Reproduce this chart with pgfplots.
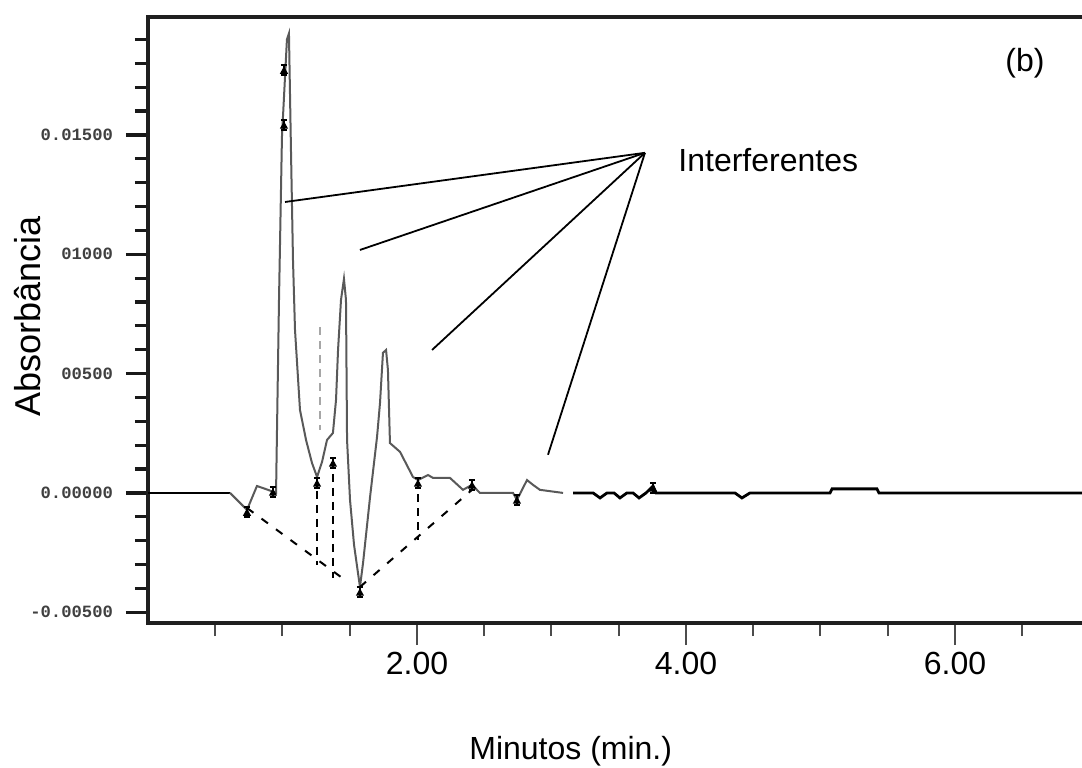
\documentclass[border=0pt]{standalone}
\usepackage{pgfplots}
\pgfplotsset{compat=1.18}
\usepackage{fontspec}
\setmainfont{Liberation Sans}
\newfontfamily\tickmono{Liberation Mono}

% I-shaped peak marker of the integrator
\pgfdeclareplotmark{ibeam}{%
  \pgfpathmoveto{\pgfqpoint{0pt}{-\pgfplotmarksize}}%
  \pgfpathlineto{\pgfqpoint{0pt}{\pgfplotmarksize}}%
  \pgfpathmoveto{\pgfqpoint{-0.6\pgfplotmarksize}{\pgfplotmarksize}}%
  \pgfpathlineto{\pgfqpoint{0.6\pgfplotmarksize}{\pgfplotmarksize}}%
  \pgfpathmoveto{\pgfqpoint{-0.6\pgfplotmarksize}{-\pgfplotmarksize}}%
  \pgfpathlineto{\pgfqpoint{0.6\pgfplotmarksize}{-\pgfplotmarksize}}%
  \pgfusepathqstroke
  \pgfpathmoveto{\pgfqpoint{-0.5\pgfplotmarksize}{-0.55\pgfplotmarksize}}%
  \pgfpathlineto{\pgfqpoint{0.5\pgfplotmarksize}{-0.55\pgfplotmarksize}}%
  \pgfpathlineto{\pgfqpoint{0pt}{0.35\pgfplotmarksize}}%
  \pgfpathclose
  \pgfusepathqfillstroke
}

\begin{document}
\begin{tikzpicture}
\begin{axis}[
    scale only axis,
    width=470.75pt, height=303pt,
    xmin=0, xmax=7,
    ymin=-0.00545, ymax=0.01994,
    axis line style={line width=1.7pt, black!88},
    tick align=outside,
    xtick pos=bottom, ytick pos=left,
    xtick={2,4,6},
    xticklabels={2.00,4.00,6.00},
    minor xtick={0.5,1,1.5,2.5,3,3.5,4.5,5,5.5,6.5},
    ytick={-0.005,0,0.005,0.01,0.015},
    yticklabels={-0.00500,0.00000,00500,01000,0.01500},
    minor ytick={-0.004,-0.003,-0.002,-0.001,0.001,0.002,0.003,0.004,0.006,0.007,0.008,0.009,0.011,0.012,0.013,0.014,0.016,0.017,0.018,0.019},
    scaled y ticks=false,
    major tick length=11pt,
    minor tick length=6.5pt,
    xtick style={line width=1pt, black!70},
    ytick style={line width=1.6pt, black!90},
    xticklabel style={font=\fontsize{16}{19}\selectfont, black},
    yticklabel style={font=\tickmono\bfseries\fontsize{8.6}{10}\selectfont, black!75, xshift=-3pt},
    xlabel={Minutos (min.)},
    ylabel={Absorbância},
    xlabel style={at={(axis description cs:0.449,-0.226)}, anchor=base, font=\fontsize{16}{19}\selectfont},
    ylabel style={at={(axis description cs:-0.1275,0.506)}, anchor=center, font=\fontsize{18}{21}\selectfont},
  ]
  \coordinate (sw) at (rel axis cs:0,0);

  % baseline before the peaks
  \addplot[black, line width=1.4pt] coordinates {(0,0) (0.610,0)};

  % peak region
  \addplot[black!65, line width=1pt] coordinates {
    (0.610,0) (0.736,-0.00071) (0.810,0.00029) (0.892,0.00013) (0.952,0)
    (0.974,0.00809) (0.996,0.01492) (1.033,0.01900) (1.048,0.01925)
    (1.063,0.01437) (1.078,0.00976) (1.093,0.00683) (1.130,0.00348)
    (1.175,0.00222) (1.219,0.00126) (1.257,0.00067) (1.294,0.00130)
    (1.331,0.00222) (1.375,0.00251) (1.398,0.00390) (1.413,0.00599)
    (1.435,0.00809) (1.457,0.00897) (1.472,0.00809) (1.480,0.00222)
    (1.502,-0.00029) (1.532,-0.00218) (1.576,-0.00394) (1.599,-0.00293)
    (1.651,-0.00017) (1.703,0.00235) (1.725,0.00377) (1.747,0.00587)
    (1.770,0.00599) (1.784,0.00515) (1.799,0.00209) (1.874,0.00172)
    (1.970,0.00067) (2.007,0.00054) (2.082,0.00075) (2.119,0.00063)
    (2.245,0.00063) (2.342,0.00013) (2.409,0.00034) (2.468,0)
    (2.714,0) (2.743,-0.00029) (2.818,0.00054) (2.862,0.00034)
    (2.914,0.00013) (3.086,0)
  };

  % baseline after the peaks
  \addplot[black, line width=1.4pt] coordinates {
    (3.160,0) (3.309,0) (3.361,-0.00021) (3.413,0) (3.465,0)
    (3.509,-0.00021) (3.561,0) (3.606,0) (3.651,-0.00021) (3.703,0)
    (3.755,0.00029) (3.777,0) (4.364,0) (4.416,-0.00021) (4.476,0)
    (5.071,0) (5.086,0.00017) (5.420,0.00017) (5.435,0) (7,0)
  };

  % integration baselines / drop lines
  \addplot[black, line width=1pt, dash pattern=on 4pt off 5pt] coordinates {(0.736,-0.00063) (1.465,-0.00365)};
  \addplot[black, line width=1pt, dash pattern=on 4pt off 5pt] coordinates {(1.576,-0.00394) (2.409,0.00013)};
  \addplot[black, line width=1pt, dash pattern=on 4pt off 3pt] coordinates {(1.257,0.00067) (1.257,-0.00302)};
  \addplot[black, line width=1pt, dash pattern=on 4pt off 3pt] coordinates {(1.375,0.00138) (1.375,-0.00356)};
  \addplot[black, line width=1pt, dash pattern=on 4pt off 3pt] coordinates {(2.007,0.00054) (2.007,-0.00197)};
  \addplot[black!35, line width=0.6pt, dash pattern=on 4pt off 3pt] coordinates {(1.279,0.00696) (1.279,0.00264)};

  % peak start/end markers
  \addplot[only marks, mark=ibeam, mark size=2.6pt, black, line width=0.9pt] coordinates {
    (0.736,-0.00080) (0.929,0.00004) (1.011,0.01772) (1.011,0.01542)
    (1.257,0.00042) (1.375,0.00126) (1.576,-0.00415) (2.007,0.00042)
    (2.409,0.00034) (2.743,-0.00029) (3.755,0.00021)
  };

  % annotation
  \draw[black, line width=0.9pt] (axis cs:3.695,0.01425) -- (axis cs:1.019,0.01219);
  \draw[black, line width=0.9pt] (axis cs:3.695,0.01425) -- (axis cs:1.576,0.01018);
  \draw[black, line width=0.9pt] (axis cs:3.695,0.01425) -- (axis cs:2.112,0.00599);
  \draw[black, line width=0.9pt] (axis cs:3.695,0.01425) -- (axis cs:2.974,0.00160);
  \node[anchor=west, inner sep=0pt, font=\fontsize{16}{19}\selectfont] at (axis cs:3.941,0.01395) {Interferentes};
  \node[inner sep=0pt, font=\fontsize{16}{19}\selectfont] at (axis cs:6.520,0.01802) {(b)};
\end{axis}
\pgfresetboundingbox
\path[use as bounding box] ([shift={(-74pt,-72pt)}]sw) rectangle ([shift={(467pt,311.5pt)}]sw);
\end{tikzpicture}
\end{document}
